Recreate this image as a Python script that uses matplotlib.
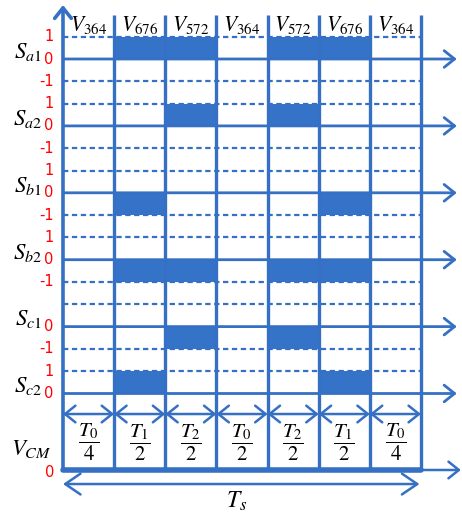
import matplotlib

matplotlib.use('Agg')
import matplotlib.pyplot as plt  # noqa: E402

plt.rcParams['mathtext.fontset'] = 'stix'
plt.rcParams['font.family'] = ['DejaVu Sans']

# voltage vectors applied in each sub-interval of one switching period
vectors = ['364', '676', '572', '364', '572', '676', '364']
dwell_num = ['0', '1', '2', '0', '2', '1', '0']
dwell_den = ['4', '2', '2', '2', '2', '2', '4']

# switching functions of the six legs, one state per sub-interval
signals = ['a1', 'a2', 'b1', 'b2', 'c1', 'c2']
s_a1 = [0, 1, 1, 0, 1, 1, 0]
s_a2 = [0, 0, 1, 0, 1, 0, 0]
s_b1 = [0, -1, 0, 0, 0, -1, 0]
s_b2 = [0, -1, -1, 0, -1, -1, 0]
s_c1 = [0, 0, -1, 0, -1, 0, 0]
s_c2 = [0, 1, 0, 0, 0, 1, 0]
states = [s_a1, s_a2, s_b1, s_b2, s_c1, s_c2]

# dashed reference levels and labelled levels for each trace
dashed_levels = [[1, -1], [1, -1], [1, -1], [1, -1], [1, -1], [1]]
tick_levels = [[1, 0, -1], [1, 0, -1], [1, 0, -1], [1, 0, -1], [0, -1], [1, 0]]

BLUE = '#3570c4'
FILL = '#3573c9'
RED = '#ff0000'
ROW = 3.0          # vertical spacing between traces
N = len(vectors)

fig = plt.figure(figsize=(4.62, 5.13), dpi=100)
ax = fig.add_axes([0, 0, 1, 1])
ax.set_xlim(-63 / 51.14, (462 - 63) / 51.14)
ax.set_ylim(-(513 - 59) / 22.3, 59 / 22.3)
ax.axis('off')

y_arrows = -15.92
y_frac = -17.2
y_cm = -18.43
y_ts = -19.06
y_top = 1.97

chevron = dict(arrowstyle='->,head_length=0.75,head_width=0.6',
               color=BLUE, lw=1.8, shrinkA=0, shrinkB=0, mutation_scale=10)
chevron2 = dict(chevron, arrowstyle='<->,head_length=0.75,head_width=0.6')

# pulses
for row, seq in enumerate(states):
    base = -ROW * row
    ax.bar(range(N), seq, width=1.0, bottom=base, align='edge', color=FILL, lw=0)

# dashed levels
for row, levels in enumerate(dashed_levels):
    base = -ROW * row
    for lv in levels:
        ax.plot([0, N], [base + lv, base + lv], color=BLUE, lw=1.6,
                dashes=(2.4, 1.6))

# zero lines with arrows
for row in range(len(signals)):
    base = -ROW * row
    ax.annotate('', xy=(7.70, base), xytext=(0, base), arrowprops=dict(chevron, lw=2.0))

# segment boundaries
ax.vlines(range(1, N + 1), y_cm, y_top, color=BLUE, lw=2.4)
ax.annotate('', xy=(0, 2.42), xytext=(0, y_cm), arrowprops=dict(chevron, lw=2.6))

# common mode baseline
ax.plot([0, N], [y_cm, y_cm], color=BLUE, lw=4.0, solid_capstyle='round')
ax.annotate('', xy=(7.78, y_cm), xytext=(N, y_cm), arrowprops=chevron)

# dwell-time arrows and labels
for i in range(N):
    ax.annotate('', xy=(i + 1, y_arrows), xytext=(i, y_arrows), arrowprops=chevron2)
    ax.text(i + 0.5, y_frac, r'$\dfrac{T_%s}{%s}$' % (dwell_num[i], dwell_den[i]),
            ha='center', va='center', fontsize=15)
    ax.text(i + 0.5, 1.26, r'$V_{%s}$' % vectors[i], ha='center', va='baseline',
            fontsize=15.5)

ts_arrow = dict(chevron2, arrowstyle='<->,head_length=1.1,head_width=0.75')
ax.annotate('', xy=(N - 0.03, y_ts), xytext=(0, y_ts), arrowprops=ts_arrow)
ax.text(3.4, -19.8, r'$T_s$', ha='center', va='center', fontsize=17)

# trace names and level labels
for row, name in enumerate(signals):
    base = -ROW * row
    ax.text(-0.41, base + 0.05, r'$S_{%s}$' % name, ha='right', va='baseline',
            fontsize=16.5)
    for lv in tick_levels[row]:
        ax.text(-0.18, base + lv, str(lv), ha='right', va='center', color=RED,
                fontsize=10.5)

ax.text(-0.22, -17.76, r'$V_{CM}$', ha='right', va='baseline', fontsize=16.5)
ax.text(-0.16, -18.55, '0', ha='right', va='center', color=RED, fontsize=10.5)

fig.savefig('out.png', dpi=100)
